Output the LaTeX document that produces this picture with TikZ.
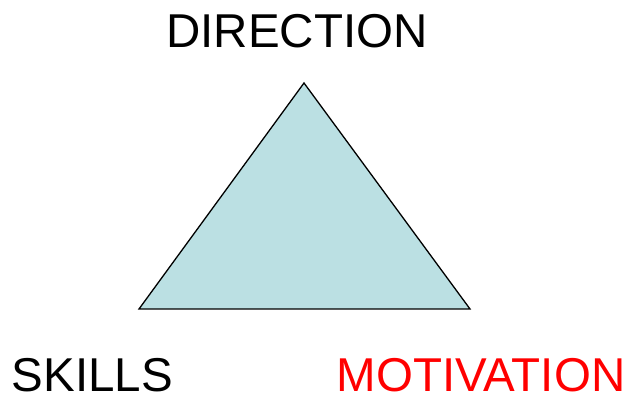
\documentclass[tikz,border=0pt]{standalone}
\usepackage{fontspec}
\setmainfont{Liberation Sans}
\usepackage{tikz}
\definecolor{paleblue}{RGB}{187,224,227}
\definecolor{motred}{RGB}{255,0,0}

\begin{document}
\begin{tikzpicture}[x=1pt,y=-1pt,
    word/.style={font=\fontsize{47.5}{50}\selectfont,anchor=base,inner sep=0pt,text depth=0pt}]
\useasboundingbox (0,0) rectangle (633,398);
\coordinate (top) at (304,83);
\coordinate (left) at (139,309);
\coordinate (right) at (470,309);
\draw[fill=paleblue,line width=1.3pt,line join=miter] (top) -- (right) -- (left) -- cycle;
\node[word] (dir) at (297,48) {DIRECTION};
\node[word] (ski) at (92.5,392) {SKILLS};
\node[word,text=motred] (mot) at (481,392) {MOTIVATION};
\end{tikzpicture}
\end{document}
